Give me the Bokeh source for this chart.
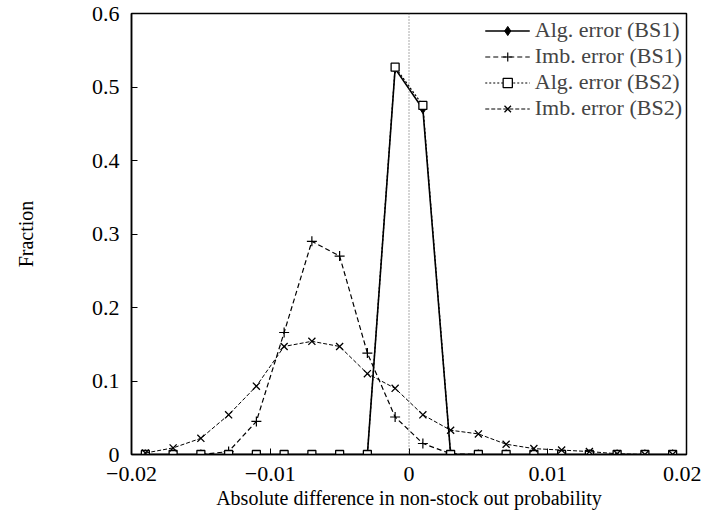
from bokeh.plotting import figure
from bokeh.models import Range1d, Span, Legend, LegendItem, FixedTicker
from bokeh.embed import file_html
from bokeh.resources import INLINE

x = [-0.019, -0.017, -0.015, -0.013, -0.011, -0.009, -0.007, -0.005, -0.003, -0.001,
     0.001, 0.003, 0.005, 0.007, 0.009, 0.011, 0.013, 0.015, 0.017, 0.019]
alg_bs1 = [0, 0, 0, 0, 0, 0, 0, 0, 0, 0.525, 0.470, 0, 0, 0, 0, 0, 0, 0, 0, 0]
imb_bs1 = [0, 0, 0, 0.004, 0.045, 0.166, 0.290, 0.270, 0.138, 0.051,
           0.015, 0.001, 0, 0, 0, 0, 0, 0, 0, 0]
alg_bs2 = [0, 0, 0, 0, 0, 0, 0, 0, 0, 0.527, 0.475, 0, 0, 0, 0, 0, 0, 0, 0, 0]
imb_bs2 = [0.002, 0.009, 0.022, 0.054, 0.093, 0.147, 0.154, 0.147, 0.110, 0.090,
           0.054, 0.033, 0.028, 0.014, 0.008, 0.006, 0.004, 0.001, 0, 0]
x_ticks = [-0.02, -0.01, 0, 0.01, 0.02]
y_ticks = [0, 0.1, 0.2, 0.3, 0.4, 0.5, 0.6]

FONT = "Liberation Serif"

p = figure(width=701, height=511, output_backend="svg", toolbar_location=None,
           x_range=Range1d(-0.02, 0.02), y_range=Range1d(0, 0.6),
           min_border_left=131, min_border_right=15, min_border_top=13, min_border_bottom=57)
p.grid.visible = False
p.outline_line_color = "black"
p.outline_line_width = 1.5
p.background_fill_color = "white"

p.add_layout(Span(location=0, dimension="height", line_color="#555555",
                  line_dash="1 2", line_width=1))

r1 = p.line(x, alg_bs1, line_color="black", line_width=1.6)
m1 = p.scatter(x, alg_bs1, marker="diamond", size=9, fill_color="black", line_color="black")
r2 = p.line(x, imb_bs1, line_color="black", line_width=1.2, line_dash="5 3")
m2 = p.scatter(x, imb_bs1, marker="cross", size=10, line_color="black", line_width=1.2)
r3 = p.line(x, alg_bs2, line_color="black", line_width=1.2, line_dash="2 2")
m3 = p.scatter(x, alg_bs2, marker="square", size=8, fill_color="white", line_color="black", line_width=1.3)
r4 = p.line(x, imb_bs2, line_color="black", line_width=1.0, line_dash="4 2")
m4 = p.scatter(x, imb_bs2, marker="x", size=10, line_color="black", line_width=1.3)

for ax in (p.xaxis[0], p.yaxis[0]):
    ax.major_tick_in = 6
    ax.major_tick_out = 0
    ax.minor_tick_line_color = None
    ax.axis_line_width = 1.5
    ax.major_label_text_font = FONT
    ax.major_label_text_font_size = "22px"
    ax.major_label_text_color = "black"
    ax.axis_label_text_font = FONT
    ax.axis_label_text_font_size = "20px"
    ax.axis_label_text_font_style = "normal"
    ax.axis_label_text_color = "black"

p.xaxis[0].ticker = FixedTicker(ticks=x_ticks)
p.yaxis[0].ticker = FixedTicker(ticks=y_ticks)
p.xaxis[0].axis_label = "Absolute difference in non-stock out probability"
p.yaxis[0].axis_label = "Fraction"
p.xaxis[0].major_label_standoff = 12
p.xaxis[0].axis_label_standoff = 3
p.yaxis[0].major_label_standoff = 12
p.yaxis[0].axis_label_standoff = 52

legend = Legend(items=[
    LegendItem(label="Alg. error (BS1)", renderers=[r1, m1]),
    LegendItem(label="Imb. error (BS1)", renderers=[r2, m2]),
    LegendItem(label="Alg. error (BS2)", renderers=[r3, m3]),
    LegendItem(label="Imb. error (BS2)", renderers=[r4, m4]),
], location="top_right")
legend.label_text_font = FONT
legend.label_text_font_size = "22px"
legend.label_height = 23
legend.glyph_height = 23
legend.glyph_width = 45
legend.spacing = 0
legend.padding = 8
legend.margin = 4
legend.border_line_color = None
legend.background_fill_alpha = 0
p.add_layout(legend)

html = file_html(p, INLINE)
open("out.html", "w").write(html)
